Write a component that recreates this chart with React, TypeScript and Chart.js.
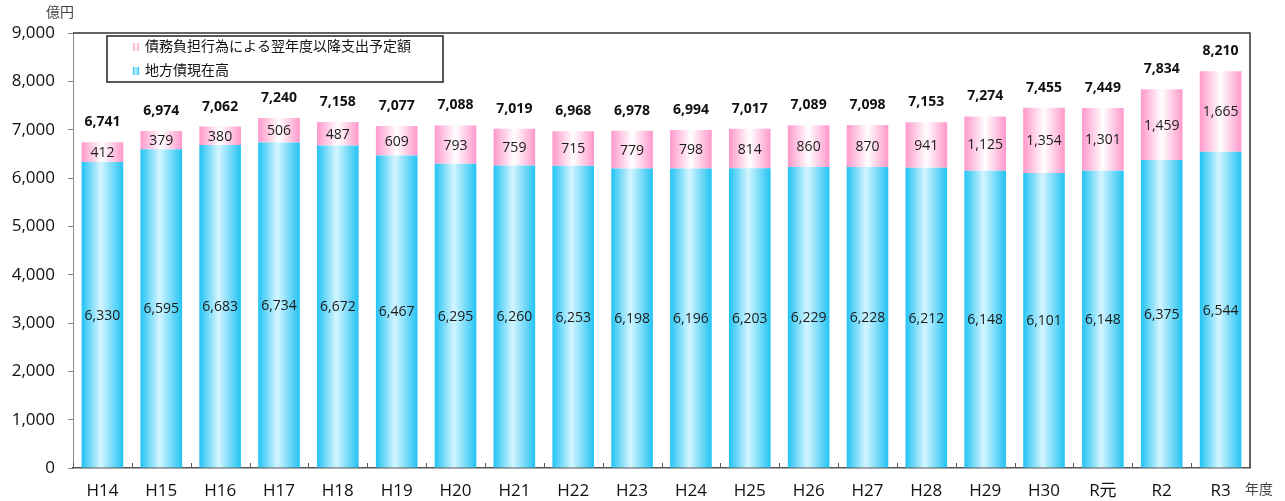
import React, { useEffect, useRef } from "react";
import { Chart, registerables } from "chart.js";

Chart.register(...registerables);

const categories = ["H14", "H15", "H16", "H17", "H18", "H19", "H20", "H21", "H22", "H23", "H24", "H25", "H26", "H27", "H28", "H29", "H30", "R元", "R2", "R3"];
const bondBalance = [6330, 6595, 6683, 6734, 6672, 6467, 6295, 6260, 6253, 6198, 6196, 6203, 6229, 6228, 6212, 6148, 6101, 6148, 6375, 6544];
const debtBurden = [412, 379, 380, 506, 487, 609, 793, 759, 715, 779, 798, 814, 860, 870, 941, 1125, 1354, 1301, 1459, 1665];
const totals = [6741, 6974, 7062, 7240, 7158, 7077, 7088, 7019, 6968, 6978, 6994, 7017, 7089, 7098, 7153, 7274, 7455, 7449, 7834, 8210];
const seriesNames = ["地方債現在高", "債務負担行為による翌年度以降支出予定額"];
const yUnit = "億円";
const xUnit = "年度";

const CAT_PCT = 0.707;
const FONT = "'Open Sans', 'Noto Sans CJK JP', sans-serif";
const CYAN_STOPS: [number, string][] = [[0, "#22C3F3"], [0.46, "#D4F5FF"], [1, "#22C3F3"]];
const PINK_STOPS: [number, string][] = [[0, "#FF98CB"], [0.5, "#FFFFFF"], [1, "#FF98CB"]];

const fmt = (v: number) => v.toLocaleString("en-US");

function gradFor(c: any, stops: [number, string][]) {
  const chart = c.chart;
  const x = chart.scales && chart.scales.x;
  if (!x || c.dataIndex === undefined || !isFinite(x.width)) return stops[0][1];
  const cx = x.getPixelForValue(c.dataIndex);
  const w = (x.width / categories.length) * CAT_PCT;
  const g = chart.ctx.createLinearGradient(cx - w / 2, 0, cx + w / 2, 0);
  stops.forEach(([o, col]) => g.addColorStop(o, col));
  return g;
}

const decorPlugin = {
  id: "decor",
  afterDraw(chart: any) {
    const { ctx, chartArea: a, scales } = chart;
    const x = scales.x;
    ctx.save();
    // top & right frame
    ctx.strokeStyle = "#333";
    ctx.lineWidth = 1.5;
    ctx.beginPath();
    ctx.moveTo(a.left, a.top);
    ctx.lineTo(a.right, a.top);
    ctx.lineTo(a.right, a.bottom);
    ctx.stroke();
    // x axis inner ticks at category boundaries
    ctx.strokeStyle = "#555";
    ctx.lineWidth = 1;
    const step = x.width / categories.length;
    for (let i = 0; i <= categories.length; i++) {
      const px = Math.round(x.left + i * step) + 0.5;
      ctx.beginPath();
      ctx.moveTo(px, a.bottom);
      ctx.lineTo(px, a.bottom - 5);
      ctx.stroke();
    }
    // unit labels
    ctx.fillStyle = "#444";
    ctx.font = `14px ${FONT}`;
    ctx.textAlign = "center";
    ctx.textBaseline = "middle";
    ctx.fillText(yUnit, 60, 13);
    ctx.fillText(xUnit, 1259, 490);

    // legend
    const lx = 107, ly = 36, lw = 336, lh = 46;
    ctx.fillStyle = "#fff";
    ctx.fillRect(lx, ly, lw, lh);
    ctx.strokeStyle = "#222";
    ctx.lineWidth = 1.5;
    ctx.strokeRect(lx, ly, lw, lh);
    const items: [string, [number, string][]][] = [
      [seriesNames[1], PINK_STOPS],
      [seriesNames[0], CYAN_STOPS],
    ];
    items.forEach(([name, stops], i) => {
      const cy = ly + 11 + i * 24;
      const mx = 133;
      const g = ctx.createLinearGradient(mx, 0, mx + 6, 0);
      stops.forEach(([o, col]) => g.addColorStop(o, col));
      ctx.fillStyle = g;
      ctx.fillRect(mx, cy - 4, 6, 8);
      ctx.fillStyle = "#111";
      ctx.font = `14px ${FONT}`;
      ctx.textAlign = "left";
      ctx.textBaseline = "middle";
      ctx.fillText(name, 145, cy);
    });
    ctx.restore();
  },
  afterDatasetsDraw(chart: any) {
    const { ctx } = chart;
    ctx.save();
    ctx.textAlign = "center";
    ctx.textBaseline = "middle";
    ctx.fillStyle = "#1a1a1a";
    ctx.font = `14px ${FONT}`;
    [0, 1].forEach((di) => {
      const meta = chart.getDatasetMeta(di);
      const vals = di === 0 ? bondBalance : debtBurden;
      meta.data.forEach((el: any, i: number) => {
        ctx.fillText(fmt(vals[i]), el.x, (el.y + el.base) / 2 + 1);
      });
    });
    ctx.font = `bold 14px ${FONT}`;
    ctx.fillStyle = "#111";
    const top = chart.getDatasetMeta(1);
    top.data.forEach((el: any, i: number) => {
      ctx.fillText(fmt(totals[i]), el.x, el.y - 20);
    });
    ctx.restore();
  },
};

export default function App() {
  const ref = useRef<HTMLCanvasElement | null>(null);
  useEffect(() => {
    if (!ref.current) return;
    const chart = new Chart(ref.current, {
      type: "bar",
      data: {
        labels: categories,
        datasets: [
          {
            label: seriesNames[0],
            data: bondBalance,
            backgroundColor: (c: any) => gradFor(c, CYAN_STOPS),
            borderWidth: 0,
            barPercentage: 1,
            categoryPercentage: CAT_PCT,
          },
          {
            label: seriesNames[1],
            data: debtBurden,
            backgroundColor: (c: any) => gradFor(c, PINK_STOPS),
            borderWidth: 0,
            barPercentage: 1,
            categoryPercentage: CAT_PCT,
          },
        ],
      },
      options: {
        responsive: false,
        animation: false,
        layout: { padding: { left: 0, top: 33, right: 35, bottom: 0 } },
        plugins: { legend: { display: false }, tooltip: { enabled: false } },
        scales: {
          x: {
            stacked: true,
            grid: { display: false, drawTicks: false },
            border: { display: true, color: "#555", width: 1.5 },
            ticks: { color: "#111", font: { size: 17, family: FONT }, padding: 13, maxRotation: 0, autoSkip: false },
            afterFit: (s: any) => { s.height = 33; },
          },
          y: {
            stacked: true,
            min: 0,
            max: 9000,
            grid: { drawOnChartArea: false, drawTicks: true, tickLength: 5, color: "#888" },
            border: { display: true, color: "#888", width: 1 },
            ticks: {
              stepSize: 1000,
              color: "#111",
              font: { size: 17, family: FONT },
              padding: 13,
              callback: (v: any) => fmt(Number(v)),
            },
            afterFit: (s: any) => { s.width = 73; },
          },
        },
      },
      plugins: [decorPlugin],
    });
    return () => chart.destroy();
  }, []);
  return (
    <div style={{ position: "fixed", left: 0, top: 0, width: 1285, height: 501, background: "#fff" }}>
      <canvas ref={ref} width={1285} height={501} style={{ display: "block" }} />
    </div>
  );
}
